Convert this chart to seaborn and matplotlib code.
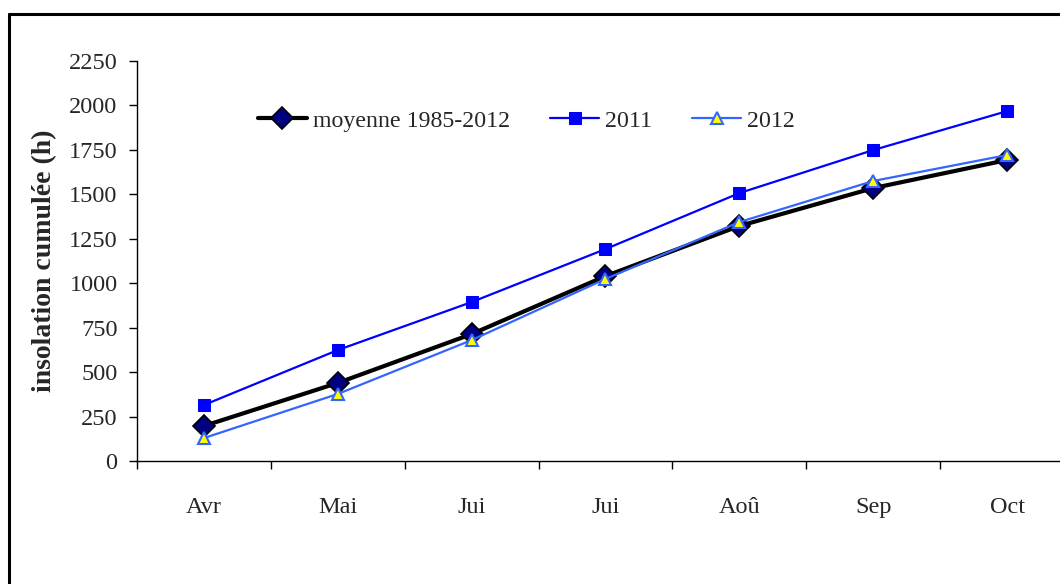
import numpy as np
import pandas as pd
import matplotlib
matplotlib.use('Agg')
import matplotlib.pyplot as plt
from matplotlib.lines import Line2D
import seaborn as sns

# data
months = ['Avr', 'Mai', 'Jui', 'Jui', 'Aoû', 'Sep', 'Oct']
moyenne = [197, 439, 714, 1040, 1322, 1535, 1693]
y2011 = [315, 624, 894, 1192, 1507, 1749, 1968]
y2012 = [129, 377, 680, 1024, 1344, 1575, 1721]
yticks = [0, 250, 500, 750, 1000, 1250, 1500, 1750, 2000, 2250]

sns.set_style('white')
plt.rcParams['font.family'] = ['Liberation Serif', 'DejaVu Serif']

fig = plt.figure(figsize=(10.6, 5.84), dpi=100)
ax = fig.add_axes([137 / 1060, (584 - 461) / 584, (1074 - 137) / 1060, 400 / 584])

x = np.arange(len(months))
sns.lineplot(x=x, y=moyenne, ax=ax, color='black', linewidth=3,
             marker='D', markersize=11, markerfacecolor='#000080',
             markeredgecolor='black', markeredgewidth=1.2,
             label='moyenne 1985-2012', zorder=3)
sns.lineplot(x=x, y=y2011, ax=ax, color='#0000FF', linewidth=1.6,
             marker='s', markersize=8, markerfacecolor='#0000FF',
             markeredgecolor='#0000FF', label='2011', zorder=3)
sns.lineplot(x=x, y=y2012, ax=ax, color='#3366FF', linewidth=1.6,
             marker='^', markersize=9, markerfacecolor='#FFFF00',
             markeredgecolor='#3366FF', markeredgewidth=1.5,
             label='2012', zorder=4)

ax.set_xlim(-0.5, 6.5)
ax.set_ylim(0, 2250)
ax.set_yticks(yticks)
ax.set_yticklabels([str(v) for v in yticks], fontsize=17.5)
ax.set_xticks(np.arange(-0.5, 7, 1))
ax.set_xticklabels([])
ax.set_xticks(x, minor=True)
ax.set_xticklabels(months, minor=True, fontsize=17.5)
ax.tick_params(axis='x', which='major', bottom=True, direction='out',
               length=6, width=1, color='black')
ax.tick_params(axis='x', which='minor', bottom=True, length=0, pad=26)
ax.tick_params(axis='y', left=True, direction='out', length=6, width=1,
               color='black', pad=8)
ax.set_ylabel('insolation cumulée (h)', fontsize=20, fontweight='bold')
ax.yaxis.set_label_coords((57 - 137) / 937, 0.5)

for side in ['top', 'right']:
    ax.spines[side].set_visible(False)
for side in ['left', 'bottom']:
    ax.spines[side].set_color('black')
    ax.spines[side].set_linewidth(1)

ax.legend(loc='center left', bbox_to_anchor=(258 / 1060, 1 - 121 / 584),
          bbox_transform=fig.transFigure, ncol=3, frameon=False, fontsize=17.2,
          handlelength=2.05, columnspacing=1.68, handletextpad=0.25,
          borderpad=0, borderaxespad=0)

# outer frame (left and top only visible)
fig.add_artist(Line2D([9 / 1060, 9 / 1060], [0, 1 - 14 / 584], color='black', linewidth=2.2))
fig.add_artist(Line2D([9 / 1060, 1], [1 - 14 / 584, 1 - 14 / 584], color='black', linewidth=2.2))

fig.savefig('out.png', dpi=100)
